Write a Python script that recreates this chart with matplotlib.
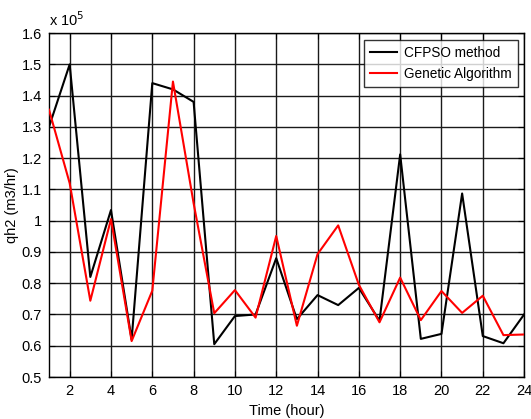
import matplotlib
matplotlib.use("Agg")
import matplotlib.pyplot as plt
import numpy as np

# Hourly qh2 values, in units of 1e5 m3/hr
hours = np.arange(1, 25)
cfpso = [1.30, 1.50, 0.82, 1.034, 0.62, 1.44, 1.42, 1.38, 0.605, 0.695, 0.70, 0.88,
         0.685, 0.762, 0.73, 0.785, 0.68, 1.212, 0.622, 0.638, 1.087, 0.631, 0.608, 0.70]
genetic = [1.355, 1.12, 0.744, 1.005, 0.615, 0.776, 1.445, 1.056, 0.704, 0.778, 0.69, 0.951,
           0.664, 0.893, 0.985, 0.795, 0.675, 0.818, 0.682, 0.775, 0.705, 0.76, 0.634, 0.636]

x_ticks = np.arange(2, 25, 2)
y_ticks = np.round(np.arange(0.5, 1.61, 0.1), 1)

plt.rcParams["font.family"] = ["Liberation Sans", "DejaVu Sans"]

fig = plt.figure(figsize=(5.31, 4.19), dpi=100)
ax = fig.add_axes([0.0923, 0.1002, 0.8947, 0.8208])

ax.plot(hours, cfpso, color="black", lw=1.5, label="CFPSO method", zorder=3)
ax.plot(hours, genetic, color="red", lw=1.5, label="Genetic Algorithm", zorder=4)

ax.set_xlim(1, 24)
ax.set_ylim(0.5, 1.6)
ax.set_xticks(x_ticks)
ax.set_yticks(y_ticks)
ax.set_yticklabels([f"{v:g}" for v in y_ticks])
ax.tick_params(direction="in", top=True, right=True, labelsize=10.5, length=4, width=0.8, pad=5)
ax.grid(True, color="#1a1a1a", lw=1.0, ls="-")
for sp in ax.spines.values():
    sp.set_linewidth(1.0)

ax.set_xlabel("Time (hour)", fontsize=10.5, labelpad=4)
ax.set_ylabel("qh2 (m3/hr)", fontsize=10.5, labelpad=2)
ax.text(0.0, 1.012, r"x 10$^5$", transform=ax.transAxes, fontsize=10.5, ha="left", va="bottom")

leg = ax.legend(loc="upper right", fontsize=9.8, frameon=True, fancybox=False,
                edgecolor="black", borderpad=0.45, handlelength=2.0, handletextpad=0.5,
                labelspacing=0.5, borderaxespad=0, bbox_to_anchor=(0.987, 0.98))
leg.get_frame().set_linewidth(1.0)

fig.savefig("out.png", dpi=100)
